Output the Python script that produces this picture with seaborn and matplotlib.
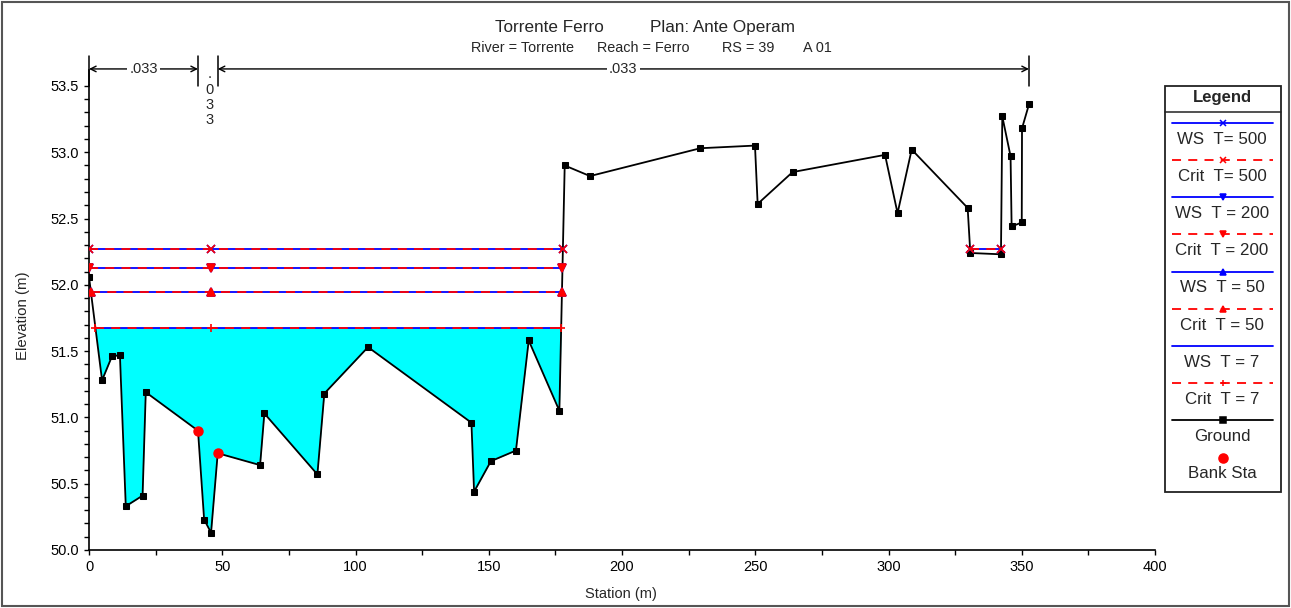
import numpy as np
import matplotlib
matplotlib.use("Agg")
import matplotlib.pyplot as plt
import seaborn as sns
import pandas as pd
from matplotlib.patches import Rectangle

# ---------------- data ----------------
station = [0.0, 4.9, 8.6, 11.6, 13.8, 20.1, 21.3, 40.9, 43.2, 45.8, 48.3, 64.2, 65.8,
           85.7, 88.3, 104.7, 143.5, 144.5, 150.8, 160.2, 165.0, 176.5, 178.5, 188.0,
           229.4, 249.9, 250.9, 264.0, 298.7, 303.4, 308.7, 329.7, 330.7, 342.2, 342.7,
           345.8, 346.2, 350.0, 350.1, 352.7]
elevation = [52.06, 51.28, 51.46, 51.47, 50.33, 50.41, 51.19, 50.90, 50.23, 50.13, 50.73,
             50.64, 51.03, 50.57, 51.18, 51.53, 50.96, 50.44, 50.67, 50.75, 51.58, 51.05,
             52.90, 52.82, 53.03, 53.05, 52.61, 52.85, 52.98, 52.54, 53.02, 52.58, 52.24,
             52.23, 53.27, 52.97, 52.44, 52.47, 53.18, 53.36]
bank_station = [40.9, 48.3]
bank_elev = [50.90, 50.73]

profiles = ["T= 500", "T = 200", "T = 50", "T = 7"]
ws_elev = [52.268, 52.13, 51.944, 51.678]
crit_elev = [52.268, 52.13, 51.944, 51.678]
ws_markers = ["x", "v", "^", None]
crit_markers = ["x", "v", "^", "+"]

n_values = [".033", ".033", ".033"]
n_breaks = [0.0, 40.9, 48.3, 352.7]

title_left = "Torrente Ferro"
title_right = "Plan: Ante Operam"
sub_parts = ["River = Torrente", "Reach = Ferro", "RS = 39", "A 01"]

x_ticks = [0, 50, 100, 150, 200, 250, 300, 350, 400]
y_ticks = [50.0, 50.5, 51.0, 51.5, 52.0, 52.5, 53.0, 53.5]

# ---------------- style ----------------
sns.set_style("white")
plt.rcParams["font.family"] = ["Liberation Sans", "DejaVu Sans"]

W, H = 1291, 608
fig = plt.figure(figsize=(W / 100, H / 100), dpi=100)
ax = fig.add_axes([89 / W, 1 - 550 / H, (1155 - 89) / W, (550 - 70) / H])

xs = np.asarray(station)
ys = np.asarray(elevation)


def wet_intervals(xv, yv, level):
    out, start = [], None
    if yv[0] < level:
        start = xv[0]
    for i in range(len(xv) - 1):
        y0, y1 = yv[i], yv[i + 1]
        if (y0 < level) != (y1 < level):
            xc = xv[i] + (level - y0) * (xv[i + 1] - xv[i]) / (y1 - y0)
            if y0 >= level:
                start = xc
            else:
                out.append((start, xc))
                start = None
    if start is not None:
        out.append((start, xv[-1]))
    return out


thalweg = xs[np.argmin(ys)]

# water fill for lowest profile
low = ws_elev[-1]
ax.fill_between(xs, ys, low, where=ys < low, interpolate=True, color="#00FFFF", lw=0, zorder=1)

# ground
gdf = pd.DataFrame({"Station": station, "Elevation": elevation})
sns.lineplot(data=gdf, x="Station", y="Elevation", sort=False, estimator=None, ax=ax,
             color="black", lw=1.3, marker="s", markersize=5, markeredgecolor="black", zorder=3)

# water surfaces
for lvl, clvl, wm, cm in zip(ws_elev, crit_elev, ws_markers, crit_markers):
    for a, b in wet_intervals(xs, ys, lvl):
        px = [a, thalweg, b] if a < thalweg < b else [a, b]
        ax.plot(px, [lvl] * len(px), color="blue", lw=1.3, marker=wm, markersize=5.5,
                markeredgewidth=1.2, zorder=4)
    for a, b in wet_intervals(xs, ys, clvl):
        px = [a, thalweg, b] if a < thalweg < b else [a, b]
        ax.plot(px, [clvl] * len(px), color="red", lw=1.3, ls=(0, (5, 4)), marker=cm,
                markersize=5.5, markeredgewidth=1.2, zorder=5)

# bank stations
ax.plot(bank_station, bank_elev, ls="none", marker="o", color="red", markersize=6.5, zorder=6)

# axes
ax.set_xlim(0, 400)
ax.set_ylim(50.0, 53.62)
ax.set_xticks(x_ticks)
ax.set_yticks(y_ticks)
ax.set_xticks(np.arange(25, 400, 50), minor=True)
ax.set_yticks([v for v in np.round(np.arange(50.1, 53.55, 0.1), 1) if round(v * 10) % 5 != 0], minor=True)
ax.set_yticklabels([f"{v:.1f}" for v in y_ticks])
ax.tick_params(axis="both", which="both", direction="out", length=3.5, width=1,
               labelsize=10.5, color="black", labelcolor="black", left=True, bottom=True)
for s in ["top", "right"]:
    ax.spines[s].set_visible(False)
for s in ["left", "bottom"]:
    ax.spines[s].set_color("black")
    ax.spines[s].set_linewidth(1.2)
ax.set_xlabel("Station (m)", fontsize=10.5)
ax.set_ylabel("Elevation (m)", fontsize=10.8)
ax.xaxis.set_label_coords(0.4993, -0.077)
ax.yaxis.set_label_coords(-0.0555, 0.4875)

# n-value bracket
y_arrow = 53.628
y_t0, y_t1 = 53.5, 53.728
for xb in n_breaks:
    ax.plot([xb, xb], [y_t0, y_t1], color="black", lw=1.1, clip_on=False, zorder=7)
for (a, b), nv in zip(zip(n_breaks[:-1], n_breaks[1:]), n_values):
    mid = (a + b) / 2
    if b - a > 20:
        ax.annotate("", xy=(a, y_arrow), xytext=(b, y_arrow), xycoords="data",
                    arrowprops=dict(arrowstyle="<->", color="black", lw=1, shrinkA=0, shrinkB=0,
                                    mutation_scale=10),
                    annotation_clip=False)
        ax.text(mid, y_arrow, nv, ha="center", va="center", fontsize=10.5,
                bbox=dict(fc="white", ec="none", pad=1.5), clip_on=False, zorder=8)
    else:
        ax.text(mid + 0.5, 53.64, "\n".join(nv), ha="center", va="top", fontsize=10.5,
                linespacing=1.12, clip_on=False, zorder=8)

# titles
fig.text(549 / W, 1 - 32 / H, title_left, ha="center", va="baseline", fontsize=12.3)
fig.text(650 / W, 1 - 32 / H, title_right, ha="left", va="baseline", fontsize=12.3)
for part, xp in zip(sub_parts, [471, 597, 722, 803]):
    fig.text(xp / W, 1 - 51.5 / H, part, ha="left", va="baseline", fontsize=10.4)

# legend box
lax = fig.add_axes([1164 / W, 1 - 493 / H, (1282 - 1164) / W, (493 - 85) / H])
lax.set_xlim(1164, 1282)
lax.set_ylim(493, 85)
lax.axis("off")
lax.add_patch(Rectangle((1164.7, 85.7), 116.3, 406.6, fill=False, ec="#222222", lw=1.3))
lax.plot([1164.7, 1281], [111.7, 111.7], color="#222222", lw=1.1)
lax.text(1222, 97.5, "Legend", ha="center", va="center", fontsize=12, weight="bold")

entries = []
for p, wm, cm in zip(profiles, ws_markers, crit_markers):
    entries.append(("WS  " + p, "blue", "-", wm))
    entries.append(("Crit  " + p, "red", (0, (5, 4)), cm))
entries.append(("Ground", "black", "-", "s"))
entries.append(("Bank Sta", "red", "none", "o"))
for i, (lab, col, ls, mk) in enumerate(entries):
    yl = 122.7 + i * 37.2
    if ls != "none":
        lax.plot([1172, 1273], [yl, yl], color=col, ls=ls, lw=1.3)
    if mk is not None:
        lax.plot([1222.5], [yl], color=col, marker=mk, ls="none",
                 markersize=6.5 if mk == "o" else 4.5, markeredgewidth=1.1)
    lax.text(1222, yl + 16.5, lab, ha="center", va="center", fontsize=12.2)

# outer border
fig.patches.append(Rectangle((2 / W, 2 / H), 1 - 4 / W, 1 - 4 / H, transform=fig.transFigure,
                             fill=False, ec="#555555", lw=1.5))

fig.savefig("out.png", dpi=100)
